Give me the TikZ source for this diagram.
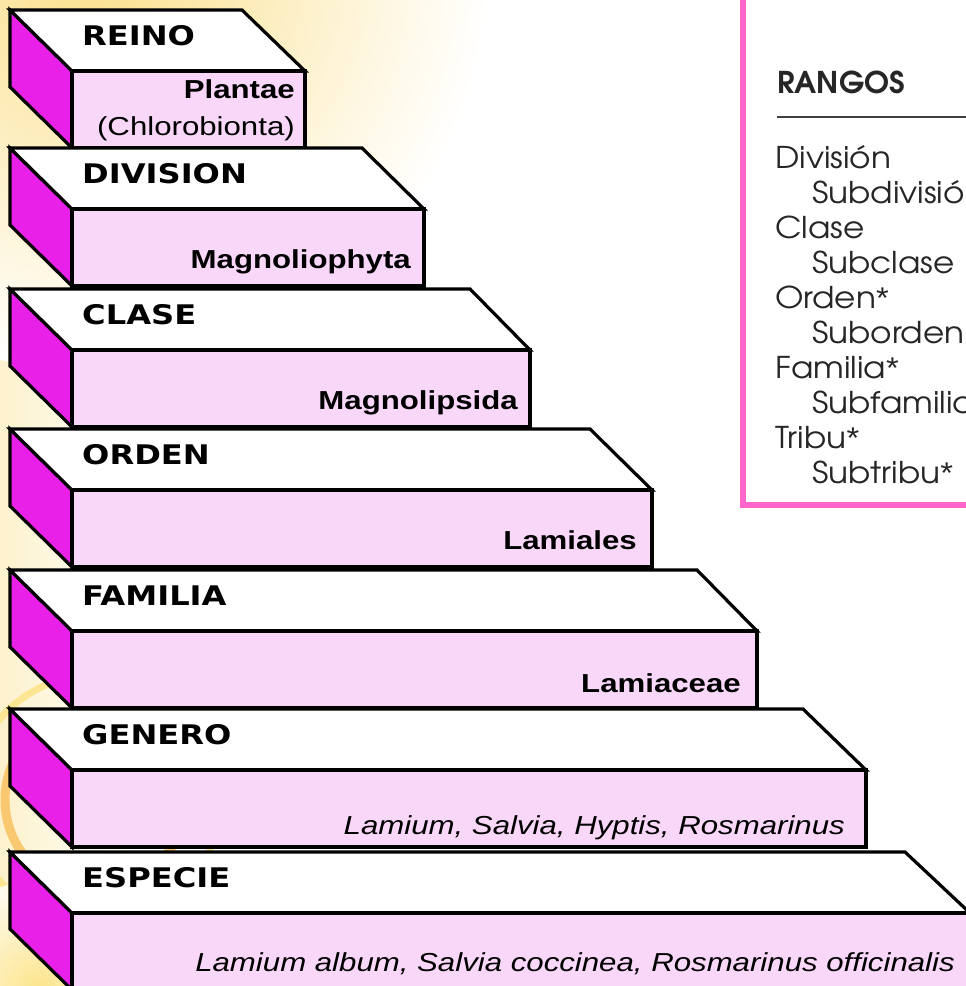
\documentclass[tikz,border=0pt]{standalone}
\usepackage{fontspec}
\usepackage{graphicx}
\setmainfont{Liberation Sans}
\newfontfamily\titlefont{DejaVu Sans}
\newfontfamily\rangofont{TeX Gyre Adventor}
\newfontfamily\starfont{Liberation Sans}
\definecolor{sidemag}{RGB}{232,32,232}
\definecolor{frontpink}{RGB}{249,215,249}
\definecolor{boxpink}{RGB}{255,102,204}
\definecolor{cream}{RGB}{253,242,205}
\definecolor{glowy}{RGB}{251,224,140}
\definecolor{ringor}{RGB}{248,190,90}
\definecolor{ringy}{RGB}{252,225,120}
\newcommand{\wideA}[1]{\scalebox{1.19}[1]{#1}}
\newcommand{\wideB}[1]{\scalebox{1.2}[1]{#1}}
\newcommand{\wideC}[1]{\scalebox{1.09}[1]{#1}}
\newcommand{\rstar}{{\starfont*}}
\tikzset{
  edge/.style={draw=black, line width=3.2pt, line join=miter},
  sideface/.style={edge, fill=sidemag},
  topface/.style={edge, fill=white},
  frontface/.style={edge, fill=frontpink},
  titlelbl/.style={inner sep=0pt, anchor=base west, font=\titlefont\bfseries\fontsize{27}{27}\selectfont},
  frontlbl/.style={inner sep=0pt, anchor=base east, font=\fontsize{26}{26}\selectfont},
  frontbold/.style={frontlbl, font=\bfseries\fontsize{26}{26}\selectfont},
  frontital/.style={frontlbl, font=\itshape\fontsize{26}{26}\selectfont},
  rangolbl/.style={inner sep=0pt, anchor=base west, font=\rangofont\fontsize{30}{30}\selectfont, text=black!85},
}
\begin{document}
\begin{tikzpicture}[x=1pt,y=-1pt]
\useasboundingbox (0,0) rectangle (966,986);
\clip (0,0) rectangle (966,986);
% background
\fill[white] (0,0) rectangle (966,986);
\shade[left color=cream, right color=white] (0,0) rectangle (150,986);
\shade[inner color=glowy, outer color=white] (90,-30) circle (400);
\draw[ringor, line width=9pt, opacity=0.8] (95,800) circle (90);
\draw[ringy, line width=7pt, opacity=0.7] (95,800) circle (125);
\shade[inner color=ringy, outer color=white, opacity=0.8] (40,990) circle (110);
% RANGOS box
\draw[draw=boxpink, line width=6pt, fill=white] (743,-20) rectangle (1010,505);
\node[rangolbl, font=\rangofont\bfseries\fontsize{30}{30}\selectfont] (rangos) at (777,93) {RANGOS};
\coordinate (rulel) at (777,117);
\coordinate (ruler) at (1000,117);
\draw[line width=2pt, black!75] (rulel) -- (ruler);
\foreach \txt/\xx/\k/\nm in {División/775/0/r0, Subdivisión/812/1/r1, Clase/775/2/r2, Subclase/812/3/r3, Orden\rstar/775/4/r4, Suborden/812/5/r5, Familia\rstar/775/6/r6, Subfamilia/812/7/r7, Tribu\rstar/775/8/r8, Subtribu\rstar/812/9/r9}{
  \node[rangolbl] (\nm) at (\xx,168+35*\k) {\wideC{\txt}};
}
% steps
\foreach \b/\xb/\xf/\t/\n in {10/242/305/REINO/reino, 148/362/424/DIVISION/division, 289/470/530/CLASE/clase, 429/590/652/ORDEN/orden, 570/697/757/FAMILIA/familia, 709/803/866/GENERO/genero, 852/905/970/ESPECIE/especie}{
  \draw[sideface] (10,\b) -- (72,\b+61) -- (72,\b+138) -- (10,\b+77) -- cycle;
  \draw[topface] (10,\b) -- (\xb,\b) -- (\xf,\b+61) -- (72,\b+61) -- cycle;
  \draw[frontface] (72,\b+61) rectangle (\xf,\b+138);
  \node[titlelbl] (\n) at (82,\b+35) {\wideA{\t}};
}
% front labels
\node[frontbold] (plantae) at (295,98) {\wideB{Plantae}};
\node[frontlbl] (chloro) at (295,135) {\wideB{(Chlorobionta)}};
\node[frontbold] (magnoliophyta) at (411,268) {\wideB{Magnoliophyta}};
\node[frontbold] (magnolipsida) at (518,409) {\wideB{Magnolipsida}};
\node[frontbold] (lamiales) at (637,549) {\wideB{Lamiales}};
\node[frontbold] (lamiaceae) at (741,692) {\wideB{Lamiaceae}};
\node[frontital] (generos) at (845,834) {\wideB{Lamium, Salvia, Hyptis, Rosmarinus}};
\node[frontital] (especies) at (955,971) {\wideB{Lamium album, Salvia coccinea, Rosmarinus officinalis}};
\end{tikzpicture}
\end{document}
